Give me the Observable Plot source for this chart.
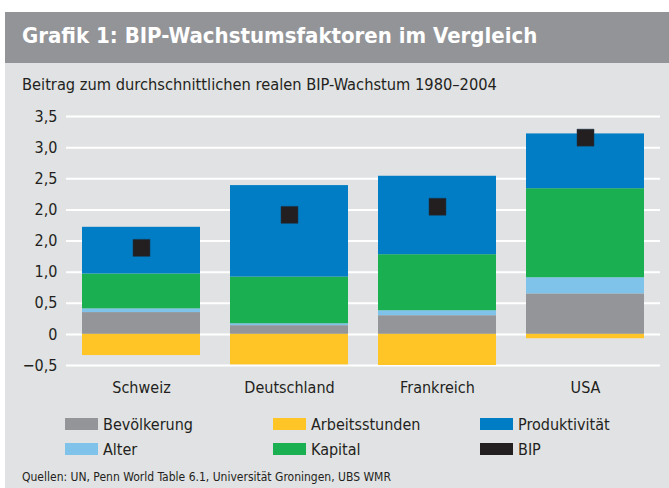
<!DOCTYPE html>
<html>
<head>
<meta charset="utf-8">
<script src="https://cdn.jsdelivr.net/npm/d3@7"></script>
<script src="https://cdn.jsdelivr.net/npm/@observablehq/plot@0.6"></script>
<style>
  html, body { margin: 0; padding: 0; background: #ffffff; }
  body { font-family: "DejaVu Sans Condensed", "Noto Sans", sans-serif; }
  #frame { position: relative; width: 669px; height: 488px; overflow: hidden; background: #ffffff; }
  #bg { position: absolute; left: 5px; top: 12px; width: 664px; height: 476px; background: #e1e2e3; }
  #titleband { position: absolute; left: 5px; top: 12px; width: 664px; height: 51px; background: #929497; }
  #title { position: absolute; left: 22px; top: 23px; font-size: 22px; font-weight: bold; color: #ffffff; white-space: nowrap; }
  #subtitle { position: absolute; left: 22px; top: 75px; font-size: 16.3px; color: #231f20; white-space: nowrap; }
  #chart { position: absolute; left: 0; top: 96px; }
  #legend { position: absolute; left: 0; top: 0; }
  .li { position: absolute; display: flex; align-items: center; font-size: 16px; color: #231f20; white-space: nowrap; }
  .sw { width: 33px; height: 12px; margin-right: 5px; }
  #source { position: absolute; left: 22px; top: 470px; font-size: 12px; color: #231f20; white-space: nowrap; }
</style>
</head>
<body>
<div id="frame">
  <div id="bg"></div>
  <div id="titleband"></div>
  <div id="title">Grafik 1: BIP-Wachstumsfaktoren im Vergleich</div>
  <div id="subtitle">Beitrag zum durchschnittlichen realen BIP-Wachstum 1980–2004</div>
  <div id="chart"></div>
  <div id="legend"></div>
  <div id="source">Quellen: UN, Penn World Table 6.1, Universität Groningen, UBS WMR</div>
</div>
<script>
// ---- Data ----
const countries = ["Schweiz", "Deutschland", "Frankreich", "USA"];
const bevoelkerung   = [0.35, 0.14, 0.30, 0.65];
const alter          = [0.06, 0.03, 0.08, 0.26];
const kapital        = [0.56, 0.75, 0.90, 1.43];
const produktivitaet = [0.75, 1.47, 1.26, 0.88];
const arbeitsstunden = [-0.34, -0.49, -0.50, -0.07];
const bip            = [1.39, 1.92, 2.05, 3.16];

const tickValues = [3.5, 3.0, 2.5, 2.0, 1.5, 1.0, 0.5, 0, -0.5];
const tickLabels = ["3,5", "3,0", "2,5", "2,0", "2,0", "1,0", "0,5", "0", "−0,5"];

const seriesNames  = ["Bevölkerung", "Alter", "Kapital", "Produktivität", "Arbeitsstunden"];
const seriesValues = [bevoelkerung, alter, kapital, produktivitaet, arbeitsstunden];
const seriesColors = ["#939598", "#7fc3ea", "#1aaf51", "#007dc4", "#ffc425"];
const bipName = "BIP";
const bipColor = "#231f20";

// ---- Build tables ----
const rows = [];
seriesNames.forEach((s, i) => {
  countries.forEach((c, j) => rows.push({country: c, series: s, value: seriesValues[i][j]}));
});
const bipRows = countries.map((c, j) => ({country: c, value: bip[j]}));

const font = '"DejaVu Sans Condensed", "Noto Sans", sans-serif';

const chart = Plot.plot({
  width: 669,
  height: 309,
  marginLeft: 66,
  marginRight: 9,
  marginTop: 20,
  marginBottom: 40,
  style: {background: "transparent", fontFamily: font, fontSize: "16px", color: "#231f20"},
  x: {domain: countries, paddingInner: 0.2, paddingOuter: 0.1, label: null, tickSize: 0, tickPadding: 16},
  y: {domain: [-0.5, 3.5], ticks: tickValues, tickFormat: v => tickLabels[tickValues.indexOf(v)] ?? "", label: null, tickSize: 0, tickPadding: 9},
  color: {domain: seriesNames, range: seriesColors},
  marks: [
    Plot.ruleY(tickValues, {stroke: "#ffffff", strokeWidth: 2}),
    Plot.barY(rows, Plot.stackY({order: seriesNames}, {x: "country", y: "value", fill: "series"})),
    Plot.dot(bipRows, {x: "country", y: "value", symbol: "square", r: 9.6, fill: bipColor, stroke: "#1b3a55", strokeWidth: 0.5})
  ]
});
document.getElementById("chart").appendChild(chart);

// ---- Legend ----
const legendItems = [
  {name: "Bevölkerung", color: seriesColors[0], x: 65, y: 424},
  {name: "Arbeitsstunden", color: seriesColors[4], x: 273, y: 424},
  {name: "Produktivität", color: seriesColors[3], x: 480, y: 424},
  {name: "Alter", color: seriesColors[1], x: 65, y: 449},
  {name: "Kapital", color: seriesColors[2], x: 273, y: 449},
  {name: bipName, color: bipColor, x: 480, y: 449}
];
const legend = document.getElementById("legend");
legendItems.forEach(it => {
  const d = document.createElement("div");
  d.className = "li";
  d.style.left = it.x + "px";
  d.style.top = (it.y - 11) + "px";
  d.style.height = "22px";
  const sw = document.createElement("div");
  sw.className = "sw";
  sw.style.background = it.color;
  const t = document.createElement("span");
  t.textContent = it.name;
  d.appendChild(sw);
  d.appendChild(t);
  legend.appendChild(d);
});
</script>
</body>
</html>
